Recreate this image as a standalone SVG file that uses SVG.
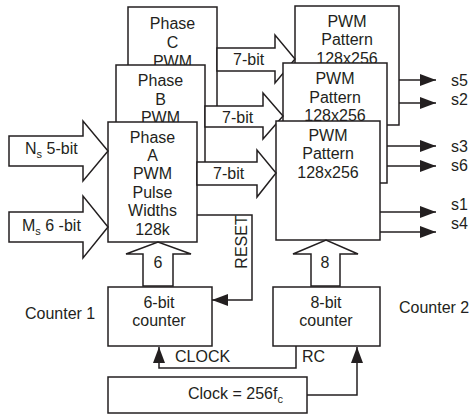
<svg xmlns="http://www.w3.org/2000/svg" width="473" height="418" viewBox="0 0 473 418">
<style>
.b{fill:#fff;stroke:#231f20;stroke-width:1.5}
.l{fill:none;stroke:#231f20;stroke-width:1.5}
text{font-family:"Liberation Sans",Arial,sans-serif;font-size:16px;fill:#231f20}
.m{text-anchor:middle}
.sub{font-size:11px}
</style>
<defs>
<marker id="ah" markerUnits="userSpaceOnUse" markerWidth="16" markerHeight="12" refX="16" refY="6" orient="auto">
<path d="M0,0 L16,6 L0,12 z" fill="#231f20"/>
</marker>
</defs>
<rect width="473" height="418" fill="#fff"/>
<g id="phaseC"><rect class="b" x="128" y="7" width="89" height="109"/>
<text class="m" x="172.5" y="29">Phase</text><text class="m" x="172.5" y="48">C</text><text class="m" x="172.5" y="67">PWM</text></g>
<g id="phaseB"><rect class="b" x="116" y="65" width="89" height="110"/>
<text class="m" x="160.5" y="86">Phase</text><text class="m" x="160.5" y="105">B</text><text class="m" x="160.5" y="123">PWM</text></g>
<g id="phaseA"><rect class="b" x="108" y="122" width="89" height="120"/>
<text class="m" x="152.5" y="143">Phase</text><text class="m" x="152.5" y="161">A</text><text class="m" x="152.5" y="179">PWM</text><text class="m" x="152.5" y="198">Pulse</text><text class="m" x="152.5" y="216">Widths</text><text class="m" x="152.5" y="235">128k</text></g>
<g id="pwm3"><rect class="b" x="295" y="6" width="104" height="119"/>
<text class="m" x="347" y="27">PWM</text><text class="m" x="347" y="45">Pattern</text><text class="m" x="347" y="64">128x256</text></g>
<g id="bus7c"><polygon class="b" points="217,48 275,48 275,35 295,59 275,83 275,71 217,71"/><text x="233" y="65">7-bit</text></g>
<g id="pwm2"><rect class="b" x="283" y="63" width="104" height="120"/>
<text class="m" x="335" y="84">PWM</text><text class="m" x="335" y="103">Pattern</text><text class="m" x="335" y="121">128x256</text></g>
<g id="bus7b"><polygon class="b" points="205,106 263,106 263,93 283,116 263,139 263,127 205,127"/><text x="222" y="123">7-bit</text></g>
<g id="pwm1"><rect class="b" x="276" y="121" width="104" height="119"/>
<text class="m" x="328" y="141">PWM</text><text class="m" x="328" y="159">Pattern</text><text class="m" x="328" y="178">128x256</text></g>
<g id="bus7a"><polygon class="b" points="197,162 257,162 257,150 276,173 257,197 257,185 197,185"/><text x="213" y="179">7-bit</text></g>
<g id="inNs"><polygon class="b" points="9,136 83,136 83,121 108,151 83,181 83,166 9,166"/><text x="25" y="154">N<tspan class="sub" dy="4">s</tspan><tspan dy="-4"> 5-bit</tspan></text></g>
<g id="inMs"><polygon class="b" points="9,212 83,212 83,196 108,227 83,258 83,242 9,242"/><text x="22" y="231">M<tspan class="sub" dy="4">s</tspan><tspan dy="-4"> 6 -bit</tspan></text></g>
<g id="counter1"><rect class="b" x="108" y="287" width="104" height="59"/>
<text class="m" x="159" y="308">6-bit</text><text class="m" x="159" y="326">counter</text></g>
<g id="counter2"><rect class="b" x="273" y="287" width="107" height="59"/>
<text class="m" x="326" y="308">8-bit</text><text class="m" x="326" y="326">counter</text></g>
<g id="clock"><rect class="b" x="108" y="377" width="199" height="36"/>
<text x="188" y="399">Clock = 256f<tspan class="sub" dy="4">c</tspan></text></g>
<g id="connectors">
<polygon class="b" points="143,286 143,254 126,254 158,242 191,254 173,254 173,286"/>
<text class="m" x="158" y="268">6</text>
<polygon class="b" points="311,286 311,254 293,254 326,240 358,254 340,254 340,286"/>
<text class="m" x="325" y="268">8</text>
<polyline class="l" points="197,215 252,215 252,300 212,300" marker-end="url(#ah)"/>
<text transform="rotate(-90 247 242)" class="m" x="247" y="242">RESET</text>
<polyline class="l" points="296,346 296,368 159,368 159,347" marker-end="url(#ah)"/>
<polyline class="l" points="307,395 357,395 357,347" marker-end="url(#ah)"/>
<text x="175" y="362">CLOCK</text>
<text x="302" y="362">RC</text>
<line class="l" x1="399" y1="80" x2="436" y2="80" marker-end="url(#ah)"/>
<line class="l" x1="399" y1="103" x2="436" y2="103" marker-end="url(#ah)"/>
<line class="l" x1="387" y1="146" x2="436" y2="146" marker-end="url(#ah)"/>
<line class="l" x1="387" y1="166" x2="436" y2="166" marker-end="url(#ah)"/>
<line class="l" x1="380" y1="212" x2="436" y2="212" marker-end="url(#ah)"/>
<line class="l" x1="380" y1="232" x2="436" y2="232" marker-end="url(#ah)"/>
</g>
<g id="labels">
<text x="451" y="86">s5</text><text x="451" y="105">s2</text>
<text x="451" y="152">s3</text><text x="451" y="171">s6</text>
<text x="451" y="210">s1</text><text x="451" y="229">s4</text>
<text x="25" y="319">Counter 1</text>
<text x="399" y="313">Counter 2</text>
</g>
</svg>
